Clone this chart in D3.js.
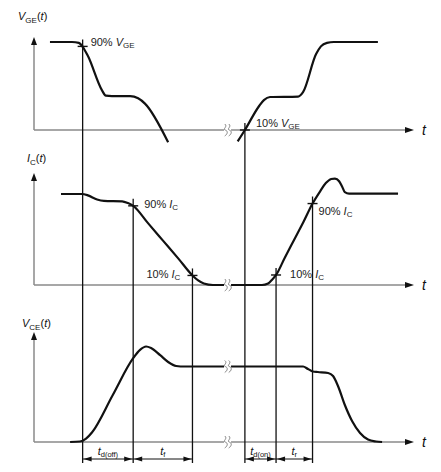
<!DOCTYPE html>
<html><head><meta charset="utf-8">
<script src="https://cdn.jsdelivr.net/npm/d3@7"></script>
<style>html,body{margin:0;padding:0;background:#fff;}svg{display:block;}</style>
</head><body>
<script>
// ---- data (time in arbitrary units, values normalised to the flat "on" level) ----
const vgeOff = [[4.2,1.0],[10.0,1.0],[11.8,0.99],[12.9,0.94],[14.2,0.84],[17.9,0.45],[18.9,0.39],[20.5,0.385],[25.3,0.385],[27.4,0.36],[29.2,0.30],[35.3,-0.14]];
const vgeOn = [[53.6,-0.13],[55.5,0],[59.2,0.27],[60.5,0.34],[62.1,0.375],[69.5,0.38],[70.8,0.43],[74.2,0.86],[75.5,0.95],[77.1,0.99],[78.9,1.0],[90.5,1.0]];
const icOff = [[7.1,1.0],[12.6,1.0],[14.2,0.985],[16.6,0.94],[18.4,0.925],[23.2,0.92],[24.7,0.9],[26.1,0.87],[30.0,0.68],[34.0,0.485],[38.0,0.29],[41.7,0.105],[43.2,0.05],[44.7,0.016],[47.1,0],[51.1,0]];
const icOn = [[51.1,0],[60.0,0],[61.6,0.016],[62.6,0.055],[63.7,0.11],[66.0,0.30],[68.5,0.50],[71.0,0.70],[73.3,0.895],[75.3,1.03],[76.8,1.12],[78.2,1.165],[79.2,1.17],[80.3,1.14],[81.1,1.08],[81.8,1.02],[82.9,1.005],[95.8,1.005]];
const vceOff = [[9.5,0],[12.1,0.007],[13.7,0.046],[15.3,0.13],[20.7,0.62],[26.1,1.11],[27.9,1.22],[29.5,1.265],[30.8,1.245],[33.2,1.15],[35.3,1.06],[37.4,1.007],[39.7,1.0],[51.1,1.0]];
const vceOn = [[51.1,1.0],[70.8,1.0],[72.1,0.967],[73.4,0.934],[74.7,0.927],[77.4,0.914],[78.7,0.874],[80.0,0.742],[81.8,0.49],[83.7,0.278],[85.8,0.12],[87.9,0.033],[90.0,0.007],[91.6,0]];
// crossing markers: time, panel index, value
const markerT = [12.8, 26.1, 41.7, 55.5, 63.7, 73.3];
const markerPanel = [0, 1, 1, 0, 1, 1];
const markerV = [0.95, 0.87, 0.105, 0, 0.11, 0.895];
// timing intervals
const intervals = [[12.8,26.1,"d(off)"],[26.1,41.7,"f"],[55.5,63.7,"d(on)"],[63.7,73.3,"r"]];
const breakT = 50.8;
const panelNames = [["V","GE"],["I","C"],["V","CE"]];
const pctLabels = [
  {panel:0, t:12.8, v:0.95, text:"90%", sym:"V", sub:"GE", dx:8, dy:0},
  {panel:1, t:26.1, v:0.87, text:"90%", sym:"I", sub:"C", dx:11, dy:2},
  {panel:1, t:41.7, v:0.105, text:"10%", sym:"I", sub:"C", dx:-46, dy:3},
  {panel:0, t:55.5, v:0, text:"10%", sym:"V", sub:"GE", dx:11, dy:-3},
  {panel:1, t:63.7, v:0.11, text:"10%", sym:"I", sub:"C", dx:14, dy:3},
  {panel:1, t:73.3, v:0.895, text:"90%", sym:"I", sub:"C", dx:6, dy:11}
];

// ---- layout ----
const W = 441, H = 472;
const svg = d3.select("body").append("svg").attr("width", W).attr("height", H)
  .style("font-family", "'Liberation Sans', Arial, sans-serif");
const x = d3.scaleLinear().domain([0,100]).range([34,414]);
const ys = [
  d3.scaleLinear().domain([0,1]).range([130,42]),
  d3.scaleLinear().domain([0,1]).range([285,194]),
  d3.scaleLinear().domain([0,1]).range([442,366.5])
];
const axisTop = [37, 173, 332];
const labelPos = [[18,20],[27,162],[22,327]];
const bottomY = 463, arrowY = 459;
const axisColor = "#8a8a8a", ink = "#111";

// ---- axes ----
ys.forEach((y, i) => {
  const y0 = y(0);
  svg.append("line").attr("x1", x(0)).attr("x2", x(100)-6).attr("y1", y0).attr("y2", y0)
    .attr("stroke", axisColor).attr("stroke-width", 1.5);
  svg.append("line").attr("x1", x(0)).attr("x2", x(0)).attr("y1", y0).attr("y2", axisTop[i]+6)
    .attr("stroke", axisColor).attr("stroke-width", 1.5);
  svg.append("path").attr("d", `M${x(100)},${y0} l-9,-3 l0,6 z`).attr("fill", ink);
  svg.append("path").attr("d", `M${x(0)},${axisTop[i]} l-3,8 l6,0 z`).attr("fill", ink);
  svg.append("text").attr("x", x(100)+8).attr("y", y0+5).attr("font-size", 14)
    .attr("font-style", "italic").attr("fill", ink).text("t");
  const t = svg.append("text").attr("x", labelPos[i][0]).attr("y", labelPos[i][1])
    .attr("font-size", 11).attr("fill", ink);
  t.append("tspan").attr("font-style", "italic").text(panelNames[i][0]);
  t.append("tspan").attr("font-size", 8).attr("dy", 3).text(panelNames[i][1]);
  t.append("tspan").attr("dy", -3).text("(");
  t.append("tspan").attr("font-style", "italic").text("t");
  t.append("tspan").text(")");
});

// ---- curves ----
const line = (y) => d3.line().x(d => x(d[0])).y(d => y(d[1])).curve(d3.curveMonotoneX);
const curves = [[vgeOff,0],[vgeOn,0],[icOff,1],[icOn,1],[vceOff,2],[vceOn,2]];
curves.forEach(([data, p]) => {
  svg.append("path").attr("d", line(ys[p])(data)).attr("fill", "none")
    .attr("stroke", ink).attr("stroke-width", 2.2).attr("stroke-linejoin", "round");
});

// ---- break symbols ----
const breakYs = [ys[0](0), ys[1](0), ys[2](0), ys[2](1)];
breakYs.forEach(by => {
  const bx = x(breakT);
  svg.append("rect").attr("x", bx-3).attr("y", by-2).attr("width", 7).attr("height", 4).attr("fill", "#fff");
  [-1.8, 2.2].forEach(o => {
    svg.append("path")
      .attr("d", `M${bx+o-0.5},${by-6} C${bx+o+3},${by-3.5} ${bx+o-3},${by-1} ${bx+o},${by} S${bx+o+2.5},${by+4} ${bx+o-0.5},${by+6}`)
      .attr("fill", "none").attr("stroke", "#777").attr("stroke-width", 0.9);
  });
});

// ---- vertical reference lines and cross markers ----
markerT.forEach((t, i) => {
  const my = ys[markerPanel[i]](markerV[i]);
  svg.append("line").attr("x1", x(t)).attr("x2", x(t)).attr("y1", my-7).attr("y2", bottomY)
    .attr("stroke", ink).attr("stroke-width", 1.3);
  svg.append("line").attr("x1", x(t)-5).attr("x2", x(t)+5).attr("y1", my).attr("y2", my)
    .attr("stroke", ink).attr("stroke-width", 1.4);
});

// ---- percent labels ----
pctLabels.forEach(l => {
  const t = svg.append("text").attr("x", x(l.t)+l.dx).attr("y", ys[l.panel](l.v)+l.dy)
    .attr("font-size", 11).attr("fill", "#222");
  t.append("tspan").text(l.text + " ");
  t.append("tspan").attr("font-style", "italic").text(l.sym);
  t.append("tspan").attr("font-size", 8).attr("dy", 2).text(l.sub);
});

// ---- timing intervals ----
intervals.forEach(([a, b, sub]) => {
  const xa = x(a), xb = x(b);
  svg.append("line").attr("x1", xa).attr("x2", xb).attr("y1", arrowY).attr("y2", arrowY)
    .attr("stroke", ink).attr("stroke-width", 1);
  svg.append("path").attr("d", `M${xa+1},${arrowY} l8,-2.5 l0,5 z`).attr("fill", ink);
  svg.append("path").attr("d", `M${xb-1},${arrowY} l-8,-2.5 l0,5 z`).attr("fill", ink);
  const t = svg.append("text").attr("x", (xa+xb)/2).attr("y", arrowY-4)
    .attr("text-anchor", "middle").attr("font-size", 11).attr("fill", ink);
  t.append("tspan").attr("font-style", "italic").text("t");
  t.append("tspan").attr("font-size", 7.5).attr("dy", 2).text(sub);
});
</script>
</body></html>
